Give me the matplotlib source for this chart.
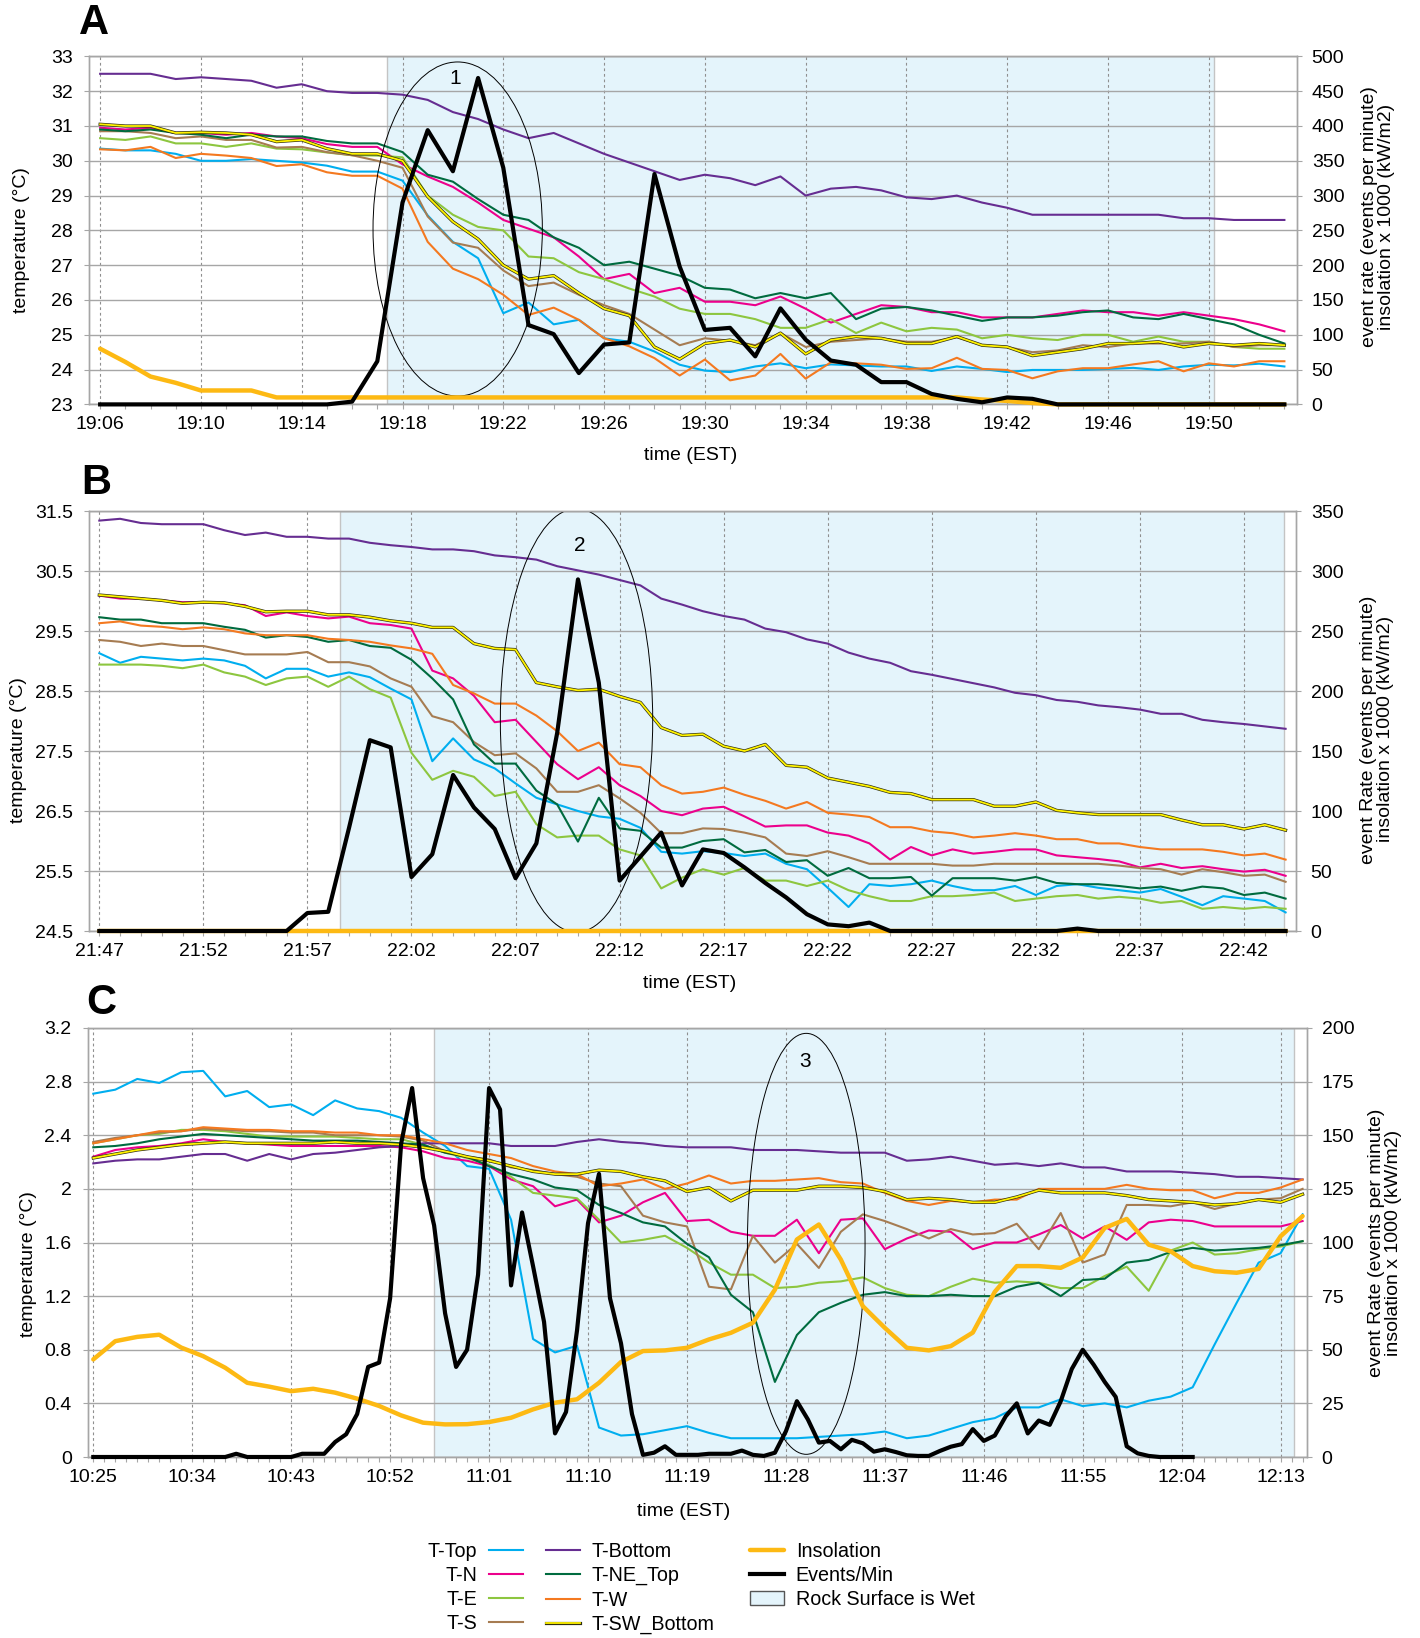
import numpy as np
import matplotlib
matplotlib.use('Agg')
import matplotlib.pyplot as plt
import matplotlib.patheffects as pe
from matplotlib.patches import Ellipse, Patch
from matplotlib.ticker import MultipleLocator, FixedLocator

plt.rcParams['font.family'] = ['Liberation Sans', 'DejaVu Sans']

# ======================= DATA =======================
series_names = ['T-Top', 'T-N', 'T-E', 'T-S', 'T-Bottom', 'T-NE_Top', 'T-W', 'T-SW_Bottom']

# ---------- Panel A : 19:06 - 19:53, one value per minute ----------
a_xticklabels = ['19:06', '19:10', '19:14', '19:18', '19:22', '19:26', '19:30',
                 '19:34', '19:38', '19:42', '19:46', '19:50']
a_top = [30.35, 30.3, 30.3, 30.2, 30.0, 30.0, 30.05, 30.0,
         29.95, 29.86, 29.69, 29.69, 29.43, 28.43, 27.67, 27.2, 25.62, 25.93, 25.3, 25.43, 24.9, 24.8, 24.52, 24.14, 23.97,
         23.93, 24.09, 24.18, 24.04, 24.15, 24.12, 24.09, 24.09, 23.96, 24.09, 24.02, 23.93, 23.99, 23.99, 23.99, 24.02,
         24.05, 23.99, 24.09, 24.14, 24.12, 24.17, 24.09]
a_n = [30.95, 30.9, 30.95, 30.8, 30.8, 30.75, 30.8, 30.7,
       30.65, 30.48, 30.4, 30.4, 29.9, 29.55, 29.25, 28.8, 28.3, 28.05, 27.8, 27.25, 26.6, 26.75, 26.2, 26.35, 25.95,
       25.95, 25.85, 26.1, 25.75, 25.35, 25.6, 25.85, 25.8, 25.65, 25.65, 25.5, 25.5, 25.5, 25.6, 25.7, 25.65,
       25.65, 25.55, 25.65, 25.55, 25.45, 25.3, 25.1]
a_e = [30.65, 30.6, 30.7, 30.5, 30.5, 30.4, 30.5, 30.35,
       30.33, 30.24, 30.16, 30.15, 30.1, 29.0, 28.45, 28.1, 28.0, 27.25, 27.2, 26.8, 26.6, 26.33, 26.1, 25.75, 25.6,
       25.6, 25.45, 25.2, 25.2, 25.45, 25.05, 25.35, 25.1, 25.2, 25.15, 24.9, 25.0, 24.9, 24.85, 25.0, 25.0,
       24.8, 24.95, 24.8, 24.8, 24.65, 24.6, 24.6]
a_s = [30.85, 30.85, 30.8, 30.65, 30.7, 30.6, 30.6, 30.38,
       30.4, 30.25, 30.16, 30.0, 29.8, 28.4, 27.65, 27.5, 26.85, 26.4, 26.5, 26.15, 25.85, 25.6, 25.15, 24.7, 24.9,
       24.83, 24.7, 25.05, 24.65, 24.8, 24.85, 24.9, 24.8, 24.8, 24.93, 24.7, 24.65, 24.5, 24.55, 24.7, 24.65,
       24.75, 24.75, 24.75, 24.8, 24.65, 24.7, 24.7]
a_bottom = [32.5, 32.5, 32.5, 32.35, 32.4, 32.35, 32.3, 32.1,
            32.2, 32.0, 31.95, 31.95, 31.9, 31.75, 31.4, 31.2, 30.9, 30.65, 30.8, 30.5, 30.2, 29.95, 29.7, 29.45, 29.6,
            29.5, 29.3, 29.55, 29.0, 29.2, 29.25, 29.15, 28.95, 28.9, 29.0, 28.8, 28.65, 28.45, 28.45, 28.45, 28.45,
            28.45, 28.45, 28.35, 28.35, 28.3, 28.3, 28.3]
a_ne = [30.9, 30.85, 30.9, 30.8, 30.75, 30.65, 30.75, 30.7,
        30.7, 30.57, 30.5, 30.5, 30.25, 29.6, 29.4, 28.9, 28.45, 28.3, 27.8, 27.5, 27.0, 27.1, 26.9, 26.7, 26.35,
        26.3, 26.05, 26.2, 26.05, 26.2, 25.45, 25.75, 25.8, 25.7, 25.55, 25.4, 25.5, 25.5, 25.55, 25.65, 25.7,
        25.5, 25.45, 25.6, 25.45, 25.3, 25.0, 24.75]
a_w = [30.33, 30.3, 30.4, 30.08, 30.2, 30.15, 30.08, 29.85,
       29.9, 29.67, 29.57, 29.57, 29.2, 27.67, 26.9, 26.6, 26.15, 25.57, 25.78, 25.43, 24.9, 24.67, 24.33, 23.83, 24.29,
       23.69, 23.83, 24.45, 23.74, 24.21, 24.18, 24.14, 24.02, 24.04, 24.34, 24.02, 23.99, 23.75, 23.95, 24.04, 24.04,
       24.15, 24.24, 23.95, 24.18, 24.09, 24.24, 24.24]
a_sw = [31.05, 31.0, 31.0, 30.8, 30.82, 30.8, 30.75, 30.55,
        30.6, 30.35, 30.2, 30.2, 30.0, 28.97, 28.25, 27.75, 27.0, 26.6, 26.7, 26.2, 25.75, 25.55, 24.65, 24.3, 24.75,
        24.85, 24.65, 25.05, 24.45, 24.85, 24.95, 24.9, 24.75, 24.75, 24.95, 24.7, 24.65, 24.4, 24.5, 24.6, 24.75,
        24.75, 24.8, 24.65, 24.75, 24.7, 24.75, 24.7]
a_insol = [80, 61, 40, 31, 20, 20, 20, 10,
           10, 10, 10, 10, 10, 10, 10, 10, 10, 10, 10, 10, 10, 10, 10, 10, 10,
           10, 10, 10, 10, 10, 10, 10, 10, 10, 10, 7, 5, 2, 0, 0, 0,
           0, 0, 0, 0, 0, 0, 0]
a_events = [0, 0, 0, 0, 0, 0, 0, 0,
            0, 0, 4, 62, 290, 394, 335, 469, 340, 114, 101, 45, 86, 89, 331, 198, 107,
            110, 69, 138, 93, 63, 57, 32, 32, 15, 8, 3, 10, 8, 0, 0, 0,
            0, 0, 0, 0, 0, 0, 0]

# ---------- Panel B : 21:47 - 22:44, one value per minute ----------
b_xticklabels = ['21:47', '21:52', '21:57', '22:02', '22:07', '22:12', '22:17',
                 '22:22', '22:27', '22:32', '22:37', '22:42']
b_top = [29.13, 28.97, 29.07, 29.04, 29.01, 29.04, 29.01, 28.92, 28.71, 28.87,
         28.87, 28.74, 28.81, 28.73, 28.54, 28.36, 27.33, 27.71, 27.36, 27.21,
         26.96, 26.72, 26.61, 26.5, 26.41, 26.37, 26.22, 25.82, 25.79, 25.83,
         25.8, 25.75, 25.79, 25.62, 25.53, 25.22, 24.9, 25.28, 25.25, 25.28,
         25.34, 25.25, 25.18, 25.18, 25.25, 25.1, 25.25, 25.28, 25.22, 25.18,
         25.14, 25.2, 25.07, 24.93, 25.08, 25.04, 25.0, 24.81]
b_n = [30.09, 30.04, 30.04, 30.01, 29.98, 29.98, 29.96, 29.93, 29.75, 29.81,
       29.75, 29.71, 29.74, 29.63, 29.6, 29.54, 28.84, 28.71, 28.42, 27.98,
       28.02, 27.65, 27.28, 27.03, 27.23, 26.93, 26.75, 26.5, 26.43, 26.54,
       26.57, 26.41, 26.24, 26.26, 26.26, 26.14, 26.09, 25.96, 25.69, 25.9,
       25.76, 25.86, 25.79, 25.82, 25.86, 25.86, 25.76, 25.73, 25.7, 25.66,
       25.56, 25.62, 25.55, 25.58, 25.53, 25.49, 25.52, 25.42]
b_e = [28.94, 28.94, 28.94, 28.92, 28.88, 28.94, 28.81, 28.74, 28.6, 28.71,
       28.74, 28.57, 28.74, 28.53, 28.39, 27.47, 27.02, 27.17, 27.07, 26.75,
       26.82, 26.28, 26.06, 26.09, 26.09, 25.86, 25.76, 25.21, 25.39, 25.53,
       25.44, 25.55, 25.34, 25.34, 25.25, 25.34, 25.18, 25.08, 25.0, 25.0,
       25.08, 25.08, 25.1, 25.14, 25.0, 25.04, 25.08, 25.1, 25.04, 25.07,
       25.04, 24.97, 25.0, 24.87, 24.9, 24.87, 24.9, 24.87]
b_s = [29.35, 29.32, 29.25, 29.29, 29.25, 29.25, 29.18, 29.11, 29.11, 29.11,
       29.15, 28.98, 28.98, 28.91, 28.71, 28.57, 28.08, 27.98, 27.65, 27.43,
       27.46, 27.21, 26.82, 26.82, 26.93, 26.71, 26.47, 26.13, 26.13, 26.21,
       26.2, 26.14, 26.06, 25.79, 25.75, 25.83, 25.73, 25.62, 25.62, 25.62,
       25.62, 25.59, 25.59, 25.62, 25.62, 25.62, 25.62, 25.62, 25.62, 25.59,
       25.55, 25.53, 25.44, 25.53, 25.48, 25.42, 25.44, 25.32]
b_bottom = [31.34, 31.37, 31.3, 31.28, 31.28, 31.28, 31.18, 31.1, 31.14, 31.07,
            31.07, 31.04, 31.04, 30.97, 30.93, 30.9, 30.86, 30.86, 30.83, 30.76,
            30.73, 30.69, 30.58, 30.51, 30.44, 30.35, 30.26, 30.04, 29.94, 29.83,
            29.75, 29.69, 29.54, 29.48, 29.36, 29.29, 29.14, 29.04, 28.97, 28.83,
            28.77, 28.7, 28.63, 28.56, 28.47, 28.43, 28.35, 28.32, 28.26, 28.23,
            28.19, 28.12, 28.12, 28.02, 27.98, 27.95, 27.91, 27.87]
b_ne = [29.73, 29.69, 29.69, 29.63, 29.63, 29.63, 29.57, 29.52, 29.39, 29.43,
        29.4, 29.32, 29.35, 29.25, 29.22, 29.02, 28.71, 28.36, 27.61, 27.29,
        27.29, 26.84, 26.61, 25.99, 26.72, 26.21, 26.17, 25.89, 25.89, 26.0,
        26.03, 25.81, 25.85, 25.65, 25.68, 25.42, 25.55, 25.38, 25.38, 25.4,
        25.09, 25.38, 25.38, 25.38, 25.34, 25.4, 25.3, 25.28, 25.28, 25.25,
        25.21, 25.24, 25.17, 25.24, 25.21, 25.1, 25.14, 25.04]
b_w = [29.63, 29.66, 29.59, 29.57, 29.53, 29.56, 29.53, 29.46, 29.43, 29.43,
       29.43, 29.37, 29.35, 29.32, 29.26, 29.21, 29.12, 28.6, 28.46, 28.29,
       28.29, 28.09, 27.83, 27.5, 27.64, 27.28, 27.23, 26.93, 26.79, 26.82,
       26.89, 26.77, 26.67, 26.54, 26.65, 26.47, 26.44, 26.4, 26.23, 26.23,
       26.16, 26.13, 26.06, 26.09, 26.13, 26.09, 26.03, 26.03, 25.96, 25.96,
       25.9, 25.86, 25.86, 25.86, 25.82, 25.76, 25.79, 25.69]
b_sw = [30.1, 30.07, 30.04, 30.01, 29.96, 29.98, 29.97, 29.91, 29.82, 29.83,
        29.83, 29.77, 29.77, 29.73, 29.67, 29.63, 29.56, 29.56, 29.29, 29.21,
        29.19, 28.64, 28.57, 28.51, 28.53, 28.41, 28.31, 27.89, 27.76, 27.78,
        27.58, 27.5, 27.61, 27.26, 27.23, 27.05, 26.98, 26.91, 26.81, 26.79,
        26.69, 26.69, 26.69, 26.58, 26.58, 26.65, 26.51, 26.47, 26.44, 26.44,
        26.44, 26.44, 26.35, 26.27, 26.27, 26.2, 26.27, 26.18]
b_insol = [0, 0, 0, 0, 0, 0, 0, 0, 0, 0,
           0, 0, 0, 0, 0, 0, 0, 0, 0, 0,
           0, 0, 0, 0, 0, 0, 0, 0, 0, 0,
           0, 0, 0, 0, 0, 0, 0, 0, 0, 0,
           0, 0, 0, 0, 0, 0, 0, 0, 0, 0,
           0, 0, 0, 0, 0, 0, 0, 0]
b_events = [0, 0, 0, 0, 0, 0, 0, 0, 0, 0,
            15, 16, 86, 159, 153, 45, 64, 130, 103, 85,
            44, 73, 165, 293, 207, 42, 62, 82, 38, 68,
            65, 53, 40, 28, 14, 5.5, 4, 7, 0, 0,
            0, 0, 0, 0, 0, 0, 0, 2, 0, 0,
            0, 0, 0, 0, 0, 0, 0, 0]

# ---------- Panel C : 10:25 - 12:15 (temperatures / insolation every 2 min, events every min) ----------
c_xticklabels = ['10:25', '10:34', '10:43', '10:52', '11:01', '11:10', '11:19',
                 '11:28', '11:37', '11:46', '11:55', '12:04', '12:13']
c_top = [2.71, 2.74, 2.82, 2.79, 2.87, 2.88, 2.69, 2.73, 2.61, 2.63, 2.55, 2.66, 2.6, 2.58, 2.53, 2.42,
         2.32, 2.17, 2.15, 1.77, 0.88, 0.78, 0.83, 0.22, 0.16, 0.17, 0.2, 0.23, 0.18, 0.14, 0.14,
         0.14, 0.14, 0.15, 0.16, 0.17, 0.19, 0.14, 0.16, 0.21, 0.26, 0.29, 0.37, 0.37, 0.43, 0.38,
         0.4, 0.37, 0.42, 0.45, 0.52, 0.84, 1.15, 1.45, 1.52, 1.81]
c_n = [2.24, 2.29, 2.31, 2.32, 2.34, 2.37, 2.35, 2.34, 2.33, 2.32, 2.32, 2.32, 2.32, 2.32, 2.31, 2.28,
       2.23, 2.21, 2.17, 2.07, 2.02, 1.87, 1.92, 1.75, 1.8, 1.9, 1.97, 1.76, 1.77, 1.68, 1.65,
       1.65, 1.77, 1.52, 1.77, 1.78, 1.55, 1.63, 1.69, 1.68, 1.55, 1.6, 1.6, 1.66, 1.73, 1.63,
       1.72, 1.62, 1.75, 1.77, 1.76, 1.72, 1.72, 1.72, 1.72, 1.76]
c_e = [2.34, 2.37, 2.4, 2.41, 2.44, 2.44, 2.43, 2.41, 2.39, 2.39, 2.39, 2.39, 2.38, 2.37, 2.37, 2.33,
       2.27, 2.23, 2.18, 2.09, 1.97, 1.95, 1.93, 1.77, 1.6, 1.62, 1.65, 1.56, 1.45, 1.36, 1.36,
       1.26, 1.27, 1.3, 1.31, 1.34, 1.26, 1.21, 1.2, 1.27, 1.33, 1.3, 1.31, 1.3, 1.26, 1.26,
       1.35, 1.42, 1.24, 1.54, 1.6, 1.51, 1.52, 1.55, 1.57, 1.61]
c_s = [2.35, 2.38, 2.4, 2.42, 2.43, 2.45, 2.44, 2.43, 2.43, 2.42, 2.42, 2.4, 2.4, 2.4, 2.39, 2.36,
       2.28, 2.24, 2.22, 2.16, 2.14, 2.11, 2.09, 2.04, 2.02, 1.8, 1.75, 1.72, 1.27, 1.25, 1.65,
       1.45, 1.59, 1.41, 1.68, 1.81, 1.76, 1.7, 1.63, 1.7, 1.66, 1.67, 1.74, 1.55, 1.82, 1.45,
       1.51, 1.88, 1.88, 1.87, 1.9, 1.85, 1.89, 1.92, 1.93, 2.0]
c_bottom = [2.19, 2.21, 2.22, 2.22, 2.24, 2.26, 2.26, 2.21, 2.26, 2.22, 2.26, 2.27, 2.29, 2.31, 2.32, 2.34,
            2.34, 2.34, 2.34, 2.32, 2.32, 2.32, 2.35, 2.37, 2.35, 2.34, 2.32, 2.31, 2.31, 2.31, 2.29,
            2.29, 2.29, 2.28, 2.27, 2.27, 2.27, 2.21, 2.22, 2.24, 2.21, 2.18, 2.19, 2.17, 2.19, 2.16,
            2.16, 2.13, 2.13, 2.13, 2.12, 2.11, 2.09, 2.09, 2.08, 2.07]
c_ne = [2.31, 2.32, 2.34, 2.37, 2.39, 2.41, 2.4, 2.39, 2.38, 2.37, 2.36, 2.36, 2.36, 2.35, 2.34, 2.33,
        2.27, 2.24, 2.17, 2.11, 2.07, 2.01, 1.99, 1.88, 1.82, 1.75, 1.72, 1.59, 1.49, 1.21, 1.08,
        0.56, 0.91, 1.08, 1.15, 1.21, 1.23, 1.2, 1.2, 1.21, 1.2, 1.2, 1.27, 1.3, 1.2, 1.32,
        1.33, 1.45, 1.47, 1.53, 1.56, 1.54, 1.55, 1.56, 1.58, 1.61]
c_w = [2.34, 2.37, 2.4, 2.43, 2.43, 2.46, 2.45, 2.44, 2.44, 2.43, 2.43, 2.42, 2.42, 2.4, 2.4, 2.37,
       2.34, 2.29, 2.26, 2.23, 2.17, 2.13, 2.11, 2.02, 2.04, 2.07, 2.0, 2.04, 2.1, 2.04, 2.06,
       2.06, 2.07, 2.08, 2.05, 2.04, 1.97, 1.91, 1.88, 1.91, 1.9, 1.92, 1.92, 2.0, 2.0, 2.0,
       2.0, 2.03, 2.0, 1.99, 1.99, 1.93, 1.97, 1.97, 2.01, 2.07]
c_sw = [2.23, 2.26, 2.29, 2.31, 2.33, 2.34, 2.35, 2.34, 2.34, 2.34, 2.34, 2.35, 2.34, 2.34, 2.33, 2.31,
        2.28, 2.24, 2.21, 2.17, 2.13, 2.11, 2.11, 2.14, 2.13, 2.09, 2.06, 1.98, 2.01, 1.91, 1.99,
        1.99, 1.99, 2.02, 2.02, 2.01, 1.98, 1.92, 1.93, 1.92, 1.9, 1.9, 1.94, 1.99, 1.97, 1.97,
        1.97, 1.95, 1.92, 1.91, 1.9, 1.88, 1.89, 1.92, 1.9, 1.96]
c_insol = [45.5, 54, 56, 57, 51, 47, 41.6, 34.6, 32.8, 30.7, 31.8, 30, 27.2, 23.8, 19.4, 16,
           15.2, 15.3, 16.3, 18.3, 22.2, 25.3, 26.9, 34.6, 44.3, 49.4, 49.7, 50.9, 54.8, 57.9, 62.6,
           78, 101.4, 108.4, 92, 70.3, 60.2, 50.9, 49.7, 51.7, 58, 77, 89, 89, 88.2, 93,
           106.8, 111, 99, 95.9, 89, 86.6, 85.9, 87.7, 102.9, 112.3]
c_events = [0, 0, 0, 0, 0, 0, 0, 0, 0, 0,
            0, 0, 0, 1.5, 0, 0, 0, 0, 0, 1.5,
            1.5, 1.5, 7, 10.6, 20, 42, 44, 74, 146, 172,
            130, 108, 67, 42, 50, 85, 172, 162, 80, 114,
            89, 63, 11, 21, 59, 109, 132, 74, 53, 20,
            1, 2, 5, 1, 1, 1, 1.5, 1.5, 1.5, 3,
            1, 0.5, 2, 12, 26, 17.5, 6.7, 7.5, 3.6, 8,
            6.4, 2.5, 3.6, 2.3, 0.8, 0.5, 0.5, 2.8, 4.8, 6,
            13, 7.5, 10, 19, 25, 11, 17, 15, 26, 41,
            50, 43, 35, 28, 5, 1.7, 0.5, 0, 0, 0,
            0]

# minute offsets from the first label of each panel
a_x = np.arange(len(a_top))
b_x = np.arange(len(b_top))
c_x_temp = np.arange(len(c_top)) * 2
c_x_ev = np.arange(len(c_events))

# wet periods (minutes after panel start)
a_wet = (11.4, 44.2)
b_wet = (11.56, 56.9)
c_wet = (31.0, 109.2)

# ======================= STYLE =======================
COLORS = {'T-Top': '#00aeef', 'T-N': '#ec008c', 'T-E': '#8dc63f', 'T-S': '#a67c52',
          'T-Bottom': '#662d91', 'T-NE_Top': '#006b3f', 'T-W': '#f47920', 'T-SW_Bottom': '#fff200'}
INSOL_COL = '#fdb913'
WET_COL = '#e4f4fb'
GRID_COL = '#a6a6a6'
FS = 14
TICK_LEN = 3.6

W, H = 1420, 1638
fig = plt.figure(figsize=(W / 100, H / 100), dpi=100)


def make_axes(left, top, right, bottom):
    return fig.add_axes([left / W, 1 - bottom / H, (right - left) / W, (bottom - top) / H])


def draw_panel(box, x_t, temps, x_i, insol, x_e, events, xlim, ylim, ystep, yfmt, y2lim, y2step,
               xtick_step, xticklabels, wet, ell, num, rlabel, xlab_pos, ylab_pos, rlab_pos):
    ax = make_axes(*box)
    ax2 = ax.twinx()
    ax.set_xlim(*xlim)
    ax.set_ylim(*ylim)
    ax2.set_ylim(*y2lim)

    # wet region
    ax.axvspan(wet[0], wet[1], facecolor=WET_COL, edgecolor='#c4c4c4', lw=1.0, zorder=0.2)

    handles = {}
    for name, vals in zip(series_names, temps):
        if name == 'T-SW_Bottom':
            ln, = ax.plot(x_t, vals, color=COLORS[name], lw=1.3, zorder=3,
                          path_effects=[pe.Stroke(linewidth=2.3, foreground='#2e2e10'), pe.Normal()])
        else:
            ln, = ax.plot(x_t, vals, color=COLORS[name], lw=1.5, zorder=3)
        handles[name] = ln
    handles['Insolation'], = ax2.plot(x_i, insol, color=INSOL_COL, lw=3.2, solid_capstyle='round',
                                      clip_on=False, zorder=3)
    handles['Events/Min'], = ax2.plot(x_e, events, color='black', lw=3.0, clip_on=False, zorder=4)

    # ellipse annotation
    ax.add_patch(Ellipse((ell[0], ell[1]), ell[2], ell[3], fill=False, ec='black', lw=0.7, zorder=5))
    ax.text(num[0], num[1], num[2], ha='center', va='center', fontsize=15, zorder=6)

    # ticks
    yt = np.arange(ylim[0], ylim[1] + ystep / 2, ystep)
    ax.yaxis.set_major_locator(FixedLocator(yt))
    ax.set_yticklabels([yfmt(v) for v in yt])
    ax2.yaxis.set_major_locator(MultipleLocator(y2step))
    xt = np.arange(len(xticklabels)) * xtick_step
    ax.set_xticks(xt)
    ax.set_xticklabels(xticklabels)
    ax.xaxis.set_minor_locator(MultipleLocator(1))

    for a in (ax, ax2):
        for s in a.spines.values():
            s.set_color(GRID_COL)
            s.set_linewidth(1.0)
    ax.set_axisbelow(True)
    ax.grid(axis='y', which='major', color=GRID_COL, lw=1.0)
    ax.grid(axis='x', which='major', color='#8f8f8f', lw=0.8, ls=(0, (2.5, 2.5)))
    ax.tick_params(axis='x', which='both', direction='out', length=TICK_LEN, width=0.8,
                   color=GRID_COL, labelsize=FS, pad=5)
    ax.tick_params(axis='y', which='both', direction='out', length=TICK_LEN, width=0.8,
                   color=GRID_COL, labelsize=FS, pad=8)
    ax2.tick_params(axis='y', direction='out', length=TICK_LEN, width=0.8,
                    color=GRID_COL, labelsize=FS, pad=7)

    # labels
    ax.set_xlabel('time (EST)', fontsize=FS)
    ax.xaxis.set_label_coords(*xlab_pos)
    ax.xaxis.label.set_va('center')
    ax.set_ylabel('temperature (°C)', fontsize=FS)
    ax.yaxis.set_label_coords(*ylab_pos)
    ax.yaxis.label.set_va('center')
    ax2.set_ylabel(rlabel, fontsize=FS, rotation=90, multialignment='center', linespacing=1.05)
    ax2.yaxis.set_label_coords(*rlab_pos)
    ax2.yaxis.label.set_va('center')
    ax2.yaxis.label.set_ha('center')
    return handles


fmt_int = lambda v: '%d' % round(v)
fmt_1 = lambda v: '%.1f' % v
fmt_c = lambda v: ('%.1f' % v).rstrip('0').rstrip('.') if abs(v) > 1e-9 else '0'

hA = draw_panel((88.8, 56.4, 1297, 404.4), a_x, [a_top, a_n, a_e, a_s, a_bottom, a_ne, a_w, a_sw],
                a_x, a_insol, a_x, a_events, (-0.45, 47.5), (23, 33), 1, fmt_int, (0, 500), 50,
                4, a_xticklabels, a_wet, (14.19, 28.04, 6.72, 9.6), (14.1, 32.37, '1'),
                'event rate (events per minute)\ninsolation x 1000 (kW/m2)',
                (0.498, -0.147), (-0.056, 0.472), (1.067, 0.539))

draw_panel((88.9, 511, 1296, 931), b_x, [b_top, b_n, b_e, b_s, b_bottom, b_ne, b_w, b_sw],
           b_x, b_insol, b_x, b_events, (-0.5, 57.5), (24.5, 31.5), 1, fmt_1, (0, 350), 50,
           5, b_xticklabels, b_wet, (22.93, 28.01, 7.32, 7.06), (23.1, 30.92, '2'),
           'event Rate (events per minute)\ninsolation x 1000 (kW/m2)',
           (0.498, -0.124), (-0.058, 0.431), (1.067, 0.48))

draw_panel((87.8, 1028, 1307, 1457), c_x_temp, [c_top, c_n, c_e, c_s, c_bottom, c_ne, c_w, c_sw],
           c_x_temp, c_insol, c_x_ev, c_events, (-0.5, 110.4), (0, 3.2), 0.4, fmt_c, (0, 200), 25,
           9, c_xticklabels, c_wet, (64.85, 1.59, 10.7, 3.14), (64.7, 2.95, '3'),
           'event Rate (events per minute)\ninsolation x 1000 (kW/m2)',
           (0.489, -0.126), (-0.049, 0.45), (1.064, 0.5))

# panel letters
for letter, (px, py) in zip(['A', 'B', 'C'], [(94, 23), (96, 483), (101, 1003)]):
    fig.text(px / W, 1 - py / H, letter, fontsize=30, fontweight='bold', ha='center', va='center')

# legends
top_y = 1 - 1542 / H
leg_kw = dict(frameon=False, fontsize=14.2, handlelength=1.72, handletextpad=0.6, labelspacing=0.26,
              borderpad=0, borderaxespad=0)
col1 = ['T-Top', 'T-N', 'T-E', 'T-S']
col2 = ['T-Bottom', 'T-NE_Top', 'T-W', 'T-SW_Bottom']
fig.legend([hA[n] for n in col1], col1, loc='upper right', bbox_to_anchor=(523 / W, top_y),
           markerfirst=False, **leg_kw)
fig.legend([hA[n] for n in col2], col2, loc='upper left', bbox_to_anchor=(546 / W, top_y), **leg_kw)
wet_patch = Patch(facecolor=WET_COL, edgecolor='#555555', lw=1.0)
fig.legend([hA['Insolation'], hA['Events/Min'], wet_patch],
           ['Insolation', 'Events/Min', 'Rock Surface is Wet'],
           loc='upper left', bbox_to_anchor=(750 / W, top_y), **leg_kw)

fig.savefig('out.png', dpi=100)
